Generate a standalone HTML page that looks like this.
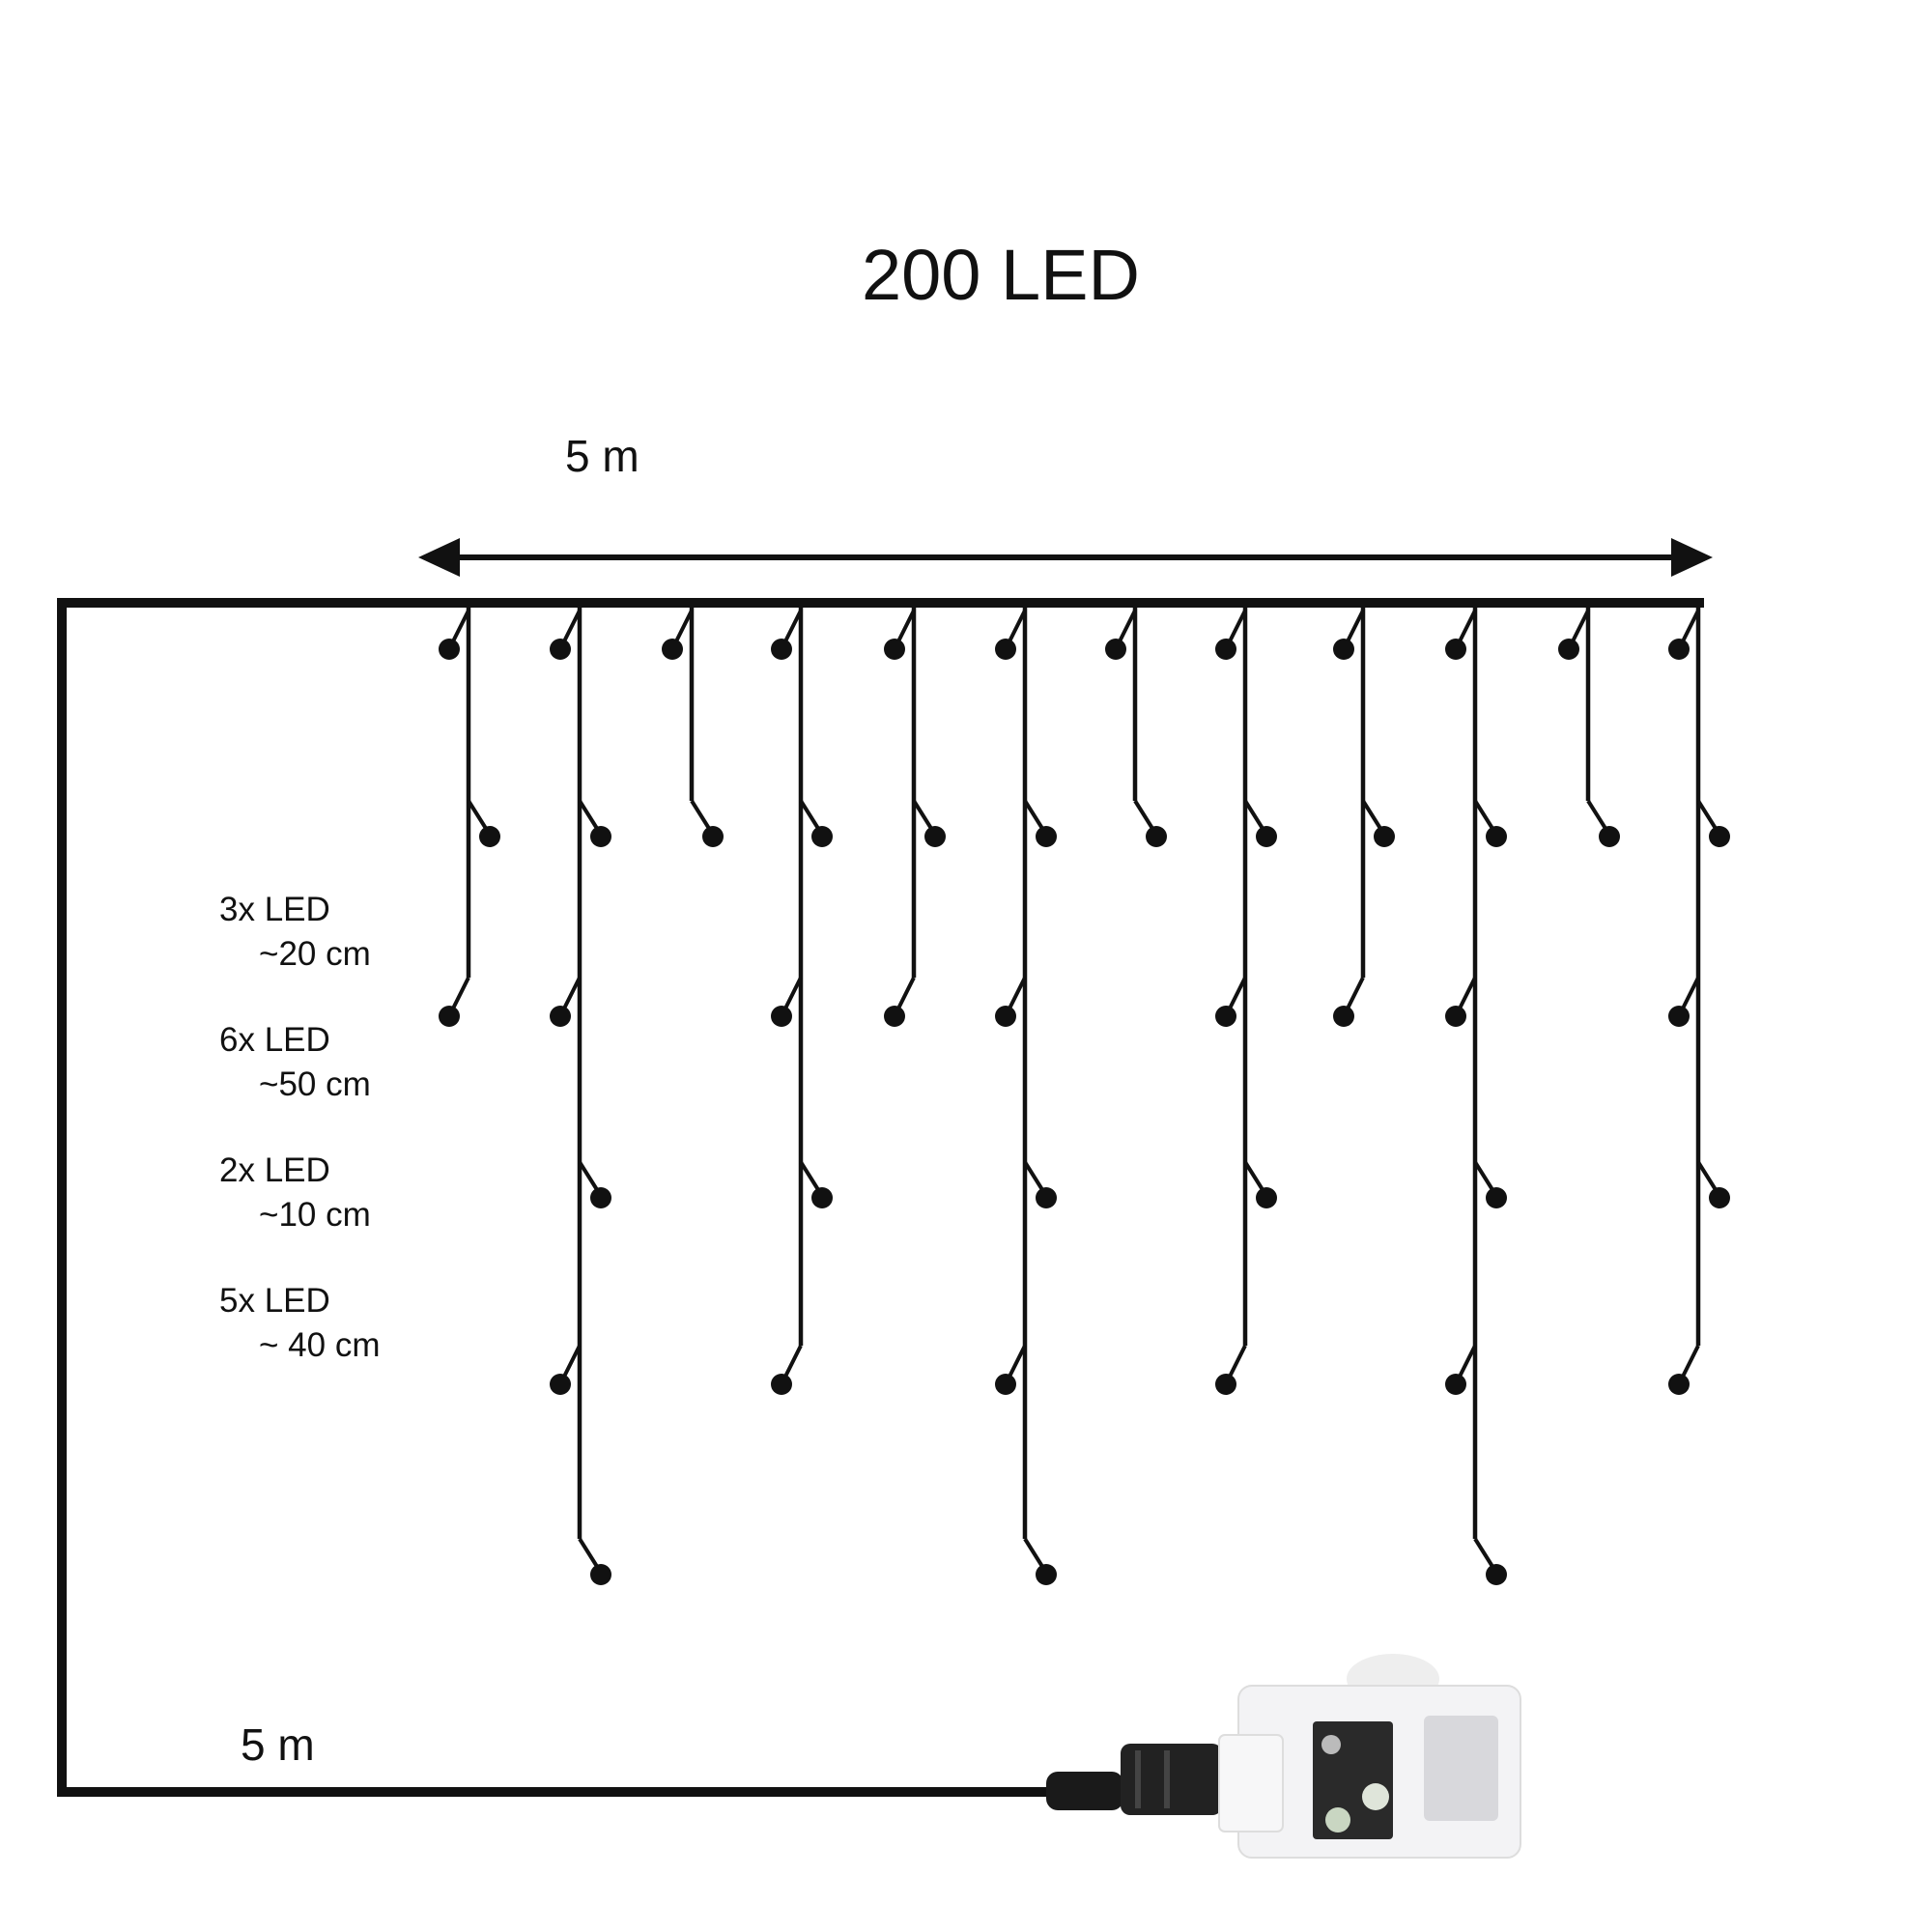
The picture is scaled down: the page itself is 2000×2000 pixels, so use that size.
<!DOCTYPE html>
<html><head><meta charset="utf-8"><style>
html,body{margin:0;padding:0;background:#fff}
svg{display:block}
text{font-family:"Liberation Sans","DejaVu Sans",sans-serif;fill:#111}
</style></head><body>
<svg width="2000" height="2000" viewBox="0 0 2000 2000" xmlns="http://www.w3.org/2000/svg">
<defs>
<g id="s3">
<path d="M0 628 V1012" stroke="#111" stroke-width="4.5" fill="none"/>
<path d="M0 632 L-20 672 M0 829 L22 864 M0 1012 L-20 1052" stroke="#111" stroke-width="4" fill="none"/>
<circle cx="-20" cy="672" r="11" fill="#111"/><circle cx="22" cy="866" r="11" fill="#111"/><circle cx="-20" cy="1052" r="11" fill="#111"/>
</g>
<g id="s2">
<path d="M0 628 V829" stroke="#111" stroke-width="4.5" fill="none"/>
<path d="M0 632 L-20 672 M0 829 L22 864" stroke="#111" stroke-width="4" fill="none"/>
<circle cx="-20" cy="672" r="11" fill="#111"/><circle cx="22" cy="866" r="11" fill="#111"/>
</g>
<g id="s5">
<path d="M0 628 V1393" stroke="#111" stroke-width="4.5" fill="none"/>
<path d="M0 632 L-20 672 M0 829 L22 864 M0 1012 L-20 1052 M0 1203 L22 1238 M0 1393 L-20 1433" stroke="#111" stroke-width="4" fill="none"/>
<circle cx="-20" cy="672" r="11" fill="#111"/><circle cx="22" cy="866" r="11" fill="#111"/><circle cx="-20" cy="1052" r="11" fill="#111"/><circle cx="22" cy="1240" r="11" fill="#111"/><circle cx="-20" cy="1433" r="11" fill="#111"/>
</g>
<g id="s6">
<path d="M0 628 V1593" stroke="#111" stroke-width="4.5" fill="none"/>
<path d="M0 632 L-20 672 M0 829 L22 864 M0 1012 L-20 1052 M0 1203 L22 1238 M0 1393 L-20 1433 M0 1593 L22 1628" stroke="#111" stroke-width="4" fill="none"/>
<circle cx="-20" cy="672" r="11" fill="#111"/><circle cx="22" cy="866" r="11" fill="#111"/><circle cx="-20" cy="1052" r="11" fill="#111"/><circle cx="22" cy="1240" r="11" fill="#111"/><circle cx="-20" cy="1433" r="11" fill="#111"/><circle cx="22" cy="1630" r="11" fill="#111"/>
</g>
</defs>

<text x="892" y="310" font-size="74">200 LED</text>
<text x="585" y="488" font-size="46">5 m</text>

<line x1="460" y1="577" x2="1745" y2="577" stroke="#111" stroke-width="6"/>
<polygon points="433,577 476,557 476,597" fill="#111"/>
<polygon points="1773,577 1730,557 1730,597" fill="#111"/>

<path d="M1083 1855 H64 V624 H1764" stroke="#111" stroke-width="10" fill="none"/>

<use href="#s3" x="485"/>
<use href="#s6" x="600"/>
<use href="#s2" x="716"/>
<use href="#s5" x="829"/>
<use href="#s3" x="946"/>
<use href="#s6" x="1061"/>
<use href="#s2" x="1175"/>
<use href="#s5" x="1289"/>
<use href="#s3" x="1411"/>
<use href="#s6" x="1527"/>
<use href="#s2" x="1644"/>
<use href="#s5" x="1758"/>

<g font-size="35">
<text x="227" y="953">3x LED</text>
<text x="268" y="999">~20 cm</text>
<text x="227" y="1088">6x LED</text>
<text x="268" y="1134">~50 cm</text>
<text x="227" y="1223">2x LED</text>
<text x="268" y="1269">~10 cm</text>
<text x="227" y="1358">5x LED</text>
<text x="268" y="1404">~ 40 cm</text>
</g>
<text x="249" y="1822" font-size="46">5 m</text>

<rect x="1083" y="1834" width="80" height="40" rx="12" fill="#1a1a1a"/>
<rect x="1160" y="1805" width="105" height="74" rx="10" fill="#222"/>
<rect x="1175" y="1812" width="6" height="60" fill="#444"/>
<rect x="1205" y="1812" width="6" height="60" fill="#444"/>
<ellipse cx="1442" cy="1738" rx="48" ry="26" fill="#eee"/>
<rect x="1282" y="1745" width="292" height="178" rx="14" fill="#f3f3f5" stroke="#ddd" stroke-width="2"/>
<rect x="1262" y="1796" width="66" height="100" rx="6" fill="#f7f7f8" stroke="#ddd" stroke-width="2"/>
<rect x="1359" y="1782" width="83" height="122" rx="4" fill="#2a2a2a"/>
<circle cx="1378" cy="1806" r="10" fill="#bbb"/>
<circle cx="1424" cy="1860" r="14" fill="#dfe5da"/>
<circle cx="1385" cy="1884" r="13" fill="#c9d6c2"/>
<rect x="1474" y="1776" width="77" height="109" rx="6" fill="#d8d8dc"/>
</svg>
</body></html>
